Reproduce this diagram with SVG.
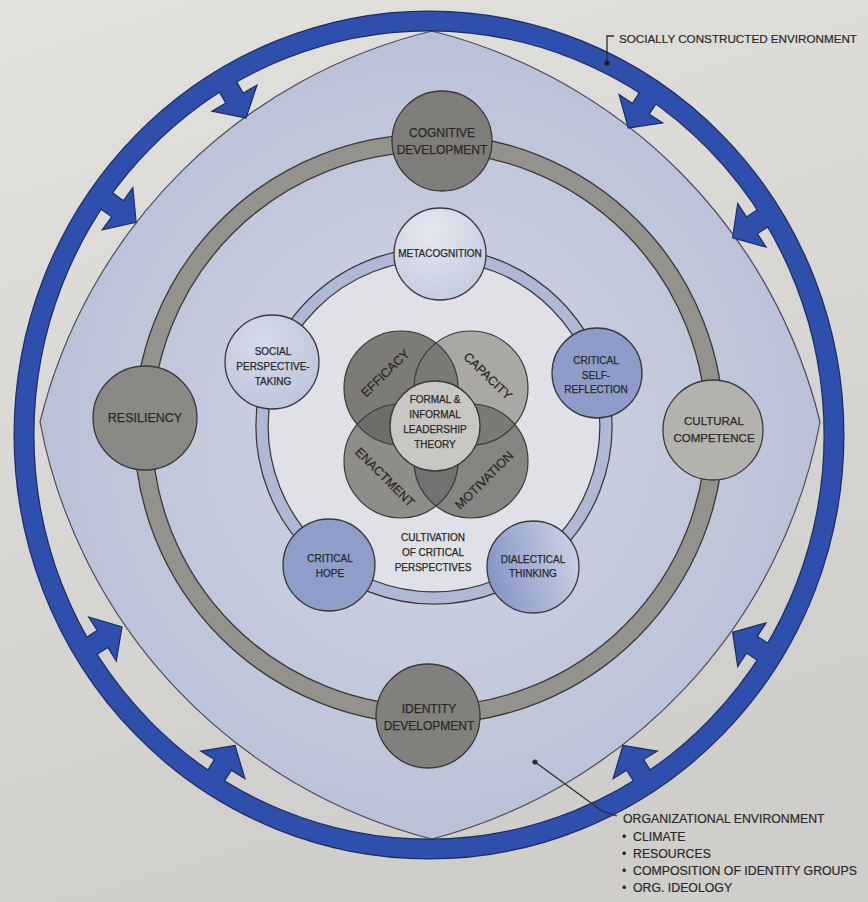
<svg xmlns="http://www.w3.org/2000/svg" width="868" height="902" viewBox="0 0 868 902">
  <defs>
    <linearGradient id="paper" x1="0" y1="0" x2="0.3" y2="1">
      <stop offset="0" stop-color="#e3e1dd"/>
      <stop offset="1" stop-color="#d0ceca"/>
    </linearGradient>
    <radialGradient id="lensFill" cx="0.5" cy="0.5" r="0.55">
      <stop offset="0" stop-color="#d3d7e4"/>
      <stop offset="1" stop-color="#b8bfd6"/>
    </radialGradient>
    <radialGradient id="metaFill" cx="0.4" cy="0.25" r="0.85">
      <stop offset="0" stop-color="#e6e8ef"/>
      <stop offset="1" stop-color="#c2c9de"/>
    </radialGradient>
    <radialGradient id="socialFill" cx="0.4" cy="0.3" r="0.85">
      <stop offset="0" stop-color="#d6dbe8"/>
      <stop offset="1" stop-color="#b9c2db"/>
    </radialGradient>
    <linearGradient id="dialFill" x1="0" y1="0.6" x2="1" y2="0.3">
      <stop offset="0" stop-color="#8594c5"/>
      <stop offset="1" stop-color="#ccd2e5"/>
    </linearGradient>
    <clipPath id="clipEff"><circle cx="401" cy="388" r="57"/></clipPath>
    <clipPath id="clipCap"><circle cx="471" cy="388" r="57"/></clipPath>
    <clipPath id="clipEna"><circle cx="401" cy="461" r="57"/></clipPath>
    <clipPath id="clipMot"><circle cx="471" cy="461" r="57"/></clipPath>
    <!-- arrow pointing along +x, tip at origin, stem running back into the ring -->
    <path id="arrowBody" d="M0,0 L-23,-26 L-23,-10 L-48,-10 L-48,10 L-23,10 L-23,26 Z"/>
    <path id="arrowEdge" d="M-36,-10 L-23,-10 L-23,-26 L0,0 L-23,26 L-23,10 L-36,10"/>
    <style>
      .lbl { font-family: "Liberation Sans", Arial, sans-serif; fill: #2a2927; stroke: #2a2927; stroke-width: 0.25; text-anchor: middle; }
      .outer { font-size: 12px; }
      .inner { font-size: 10px; }
      .venn { font-size: 12.5px; }
      .note { font-family: "Liberation Sans", Arial, sans-serif; fill: #2a2927; stroke: #2a2927; stroke-width: 0.2; font-size: 12.3px; }
      .node { stroke: #3a3938; stroke-width: 1.3; }
      .ring-edge { fill: none; stroke: #1e2c62; }
      .arrow-body { fill: #2e4fab; }
      .arrow-edge { fill: none; stroke: #1e2c62; stroke-width: 1.2; stroke-linejoin: miter; }
      .leader { fill: none; stroke: #2d2c2a; stroke-width: 1.3; }
    </style>
  </defs>

  <!-- paper -->
  <rect width="868" height="902" fill="url(#paper)"/>

  <!-- organizational environment: curved diamond -->
  <path id="org-environment" d="M40,422 A533,533 0 0 1 432,31 A533,533 0 0 1 820,422 A533,533 0 0 1 432,839 A533,533 0 0 1 40,422 Z" fill="url(#lensFill)" stroke="#4a4d58" stroke-width="1.2"/>

  <!-- socially constructed environment: blue band -->
  <g id="rings">
    <ellipse cx="429" cy="435" rx="405" ry="414" class="ring-edge" stroke-width="21"/>
    <ellipse cx="429" cy="435" rx="405" ry="414" fill="none" stroke="#2e4fab" stroke-width="18.6"/>
    <!-- development band -->
    <circle cx="429" cy="429" r="286" fill="none" stroke="#3a3938" stroke-width="19"/>
    <circle cx="429" cy="429" r="286" fill="none" stroke="#94928d" stroke-width="16.4"/>
    <!-- critical perspectives band -->
    <circle cx="434" cy="426" r="166" fill="#e0e1e6"/>
    <circle cx="434" cy="426" r="172" fill="none" stroke="#3a3938" stroke-width="13.5"/>
    <circle cx="434" cy="426" r="172" fill="none" stroke="#afb9d6" stroke-width="11"/>
  </g>

  <!-- inward arrows from the outer band -->
  <g id="connectors">
    <g transform="translate(429,435) rotate(-120) translate(366,0) rotate(180)"><use href="#arrowBody" class="arrow-body"/><use href="#arrowEdge" class="arrow-edge"/></g>
    <g transform="translate(429,435) rotate(-144) translate(362,0) rotate(180)"><use href="#arrowBody" class="arrow-body"/><use href="#arrowEdge" class="arrow-edge"/></g>
    <g transform="translate(429,435) rotate(-57) translate(366,0) rotate(180)"><use href="#arrowBody" class="arrow-body"/><use href="#arrowEdge" class="arrow-edge"/></g>
    <g transform="translate(429,435) rotate(-33) translate(362,0) rotate(180)"><use href="#arrowBody" class="arrow-body"/><use href="#arrowEdge" class="arrow-edge"/></g>
    <g transform="translate(429,435) rotate(33) translate(362,0) rotate(180)"><use href="#arrowBody" class="arrow-body"/><use href="#arrowEdge" class="arrow-edge"/></g>
    <g transform="translate(429,435) rotate(58) translate(366,0) rotate(180)"><use href="#arrowBody" class="arrow-body"/><use href="#arrowEdge" class="arrow-edge"/></g>
    <g transform="translate(429,435) rotate(122) translate(366,0) rotate(180)"><use href="#arrowBody" class="arrow-body"/><use href="#arrowEdge" class="arrow-edge"/></g>
    <g transform="translate(429,435) rotate(148) translate(362,0) rotate(180)"><use href="#arrowBody" class="arrow-body"/><use href="#arrowEdge" class="arrow-edge"/></g>
  </g>

  <!-- development nodes -->
  <g id="cognitive-development">
    <circle cx="442" cy="141" r="50" class="node" fill="#7f7d79"/>
    <text class="lbl outer" x="442" y="137">COGNITIVE</text>
    <text class="lbl outer" x="442" y="154">DEVELOPMENT</text>
  </g>
  <g id="resiliency">
    <circle cx="145" cy="418" r="52" class="node" fill="#8b8985"/>
    <text class="lbl outer" x="145" y="422" style="font-size:12.5px">RESILIENCY</text>
  </g>
  <g id="cultural-competence">
    <circle cx="713" cy="430" r="50" class="node" fill="#b4b2ad"/>
    <text class="lbl outer" x="714" y="425" style="font-size:11.5px">CULTURAL</text>
    <text class="lbl outer" x="714" y="442" style="font-size:11.5px">COMPETENCE</text>
  </g>
  <g id="identity-development">
    <circle cx="428" cy="716" r="52" class="node" fill="#82807c"/>
    <text class="lbl outer" x="429" y="713">IDENTITY</text>
    <text class="lbl outer" x="429" y="730">DEVELOPMENT</text>
  </g>

  <!-- critical perspective nodes -->
  <g id="metacognition">
    <circle cx="440" cy="254" r="46" class="node" fill="url(#metaFill)"/>
    <text class="lbl inner" x="440" y="257">METACOGNITION</text>
  </g>
  <g id="social-perspective-taking">
    <circle cx="272" cy="362" r="47" class="node" fill="url(#socialFill)"/>
    <text class="lbl inner" x="273" y="355">SOCIAL</text>
    <text class="lbl inner" x="273" y="370">PERSPECTIVE-</text>
    <text class="lbl inner" x="273" y="385">TAKING</text>
  </g>
  <g id="critical-self-reflection">
    <circle cx="597" cy="373" r="45" class="node" fill="#8e9cca"/>
    <text class="lbl inner" x="596" y="364">CRITICAL</text>
    <text class="lbl inner" x="596" y="379">SELF-</text>
    <text class="lbl inner" x="596" y="393">REFLECTION</text>
  </g>
  <g id="critical-hope">
    <circle cx="329" cy="565" r="46" class="node" fill="#8f9dc9"/>
    <text class="lbl inner" x="330" y="562">CRITICAL</text>
    <text class="lbl inner" x="330" y="577">HOPE</text>
  </g>
  <g id="dialectical-thinking">
    <circle cx="533" cy="567" r="46" class="node" fill="url(#dialFill)"/>
    <text class="lbl inner" x="533" y="563">DIALECTICAL</text>
    <text class="lbl inner" x="533" y="577">THINKING</text>
  </g>
  <g id="cultivation-label">
    <text class="lbl inner" x="433" y="541">CULTIVATION</text>
    <text class="lbl inner" x="433" y="556">OF CRITICAL</text>
    <text class="lbl inner" x="433" y="571">PERSPECTIVES</text>
  </g>

  <!-- leadership venn -->
  <g id="leadership-venn">
    <circle cx="401" cy="388" r="57" fill="#7d7b77"/>
    <circle cx="471" cy="388" r="57" fill="#aaa8a4"/>
    <circle cx="401" cy="461" r="57" fill="#8f8d89"/>
    <circle cx="471" cy="461" r="57" fill="#878581"/>
    <circle cx="471" cy="388" r="57" fill="#7b7975" clip-path="url(#clipEff)"/>
    <circle cx="401" cy="461" r="57" fill="#6f6d6a" clip-path="url(#clipEff)"/>
    <circle cx="471" cy="461" r="57" fill="#7c7a76" clip-path="url(#clipCap)"/>
    <circle cx="471" cy="461" r="57" fill="#747270" clip-path="url(#clipEna)"/>
    <g fill="none" stroke="#3a3938" stroke-width="1.2">
      <circle cx="401" cy="388" r="57"/>
      <circle cx="471" cy="388" r="57"/>
      <circle cx="401" cy="461" r="57"/>
      <circle cx="471" cy="461" r="57"/>
    </g>
    <text class="lbl venn" transform="translate(385,373) rotate(-44)" dy="4.5">EFFICACY</text>
    <text class="lbl venn" transform="translate(488,376) rotate(44)" dy="4.5">CAPACITY</text>
    <text class="lbl venn" transform="translate(385,477) rotate(45)" dy="4.5">ENACTMENT</text>
    <text class="lbl venn" transform="translate(484,480) rotate(-45)" dy="4.5">MOTIVATION</text>
  </g>
  <g id="leadership-theory">
    <circle cx="435" cy="426" r="45" class="node" fill="#c8c7c4"/>
    <text class="lbl inner" x="435" y="403">FORMAL &amp;</text>
    <text class="lbl inner" x="435" y="418">INFORMAL</text>
    <text class="lbl inner" x="435" y="433">LEADERSHIP</text>
    <text class="lbl inner" x="435" y="448">THEORY</text>
  </g>

  <!-- callouts -->
  <g id="socially-constructed-label">
    <path class="leader" d="M614,36 H607 V62"/>
    <circle cx="607" cy="63" r="2.6" fill="#1b1b1b"/>
    <text class="note" x="619" y="43" style="font-size:11.6px" textLength="238" lengthAdjust="spacingAndGlyphs">SOCIALLY CONSTRUCTED ENVIRONMENT</text>
  </g>
  <g id="organizational-label">
    <path class="leader" d="M535,762 L602,811 L617,816"/>
    <circle cx="535" cy="762" r="2.6" fill="#2d2c2a"/>
    <text class="note" x="623" y="823">ORGANIZATIONAL ENVIRONMENT</text>
    <text class="note" y="841"><tspan x="622">•</tspan><tspan x="633">CLIMATE</tspan></text>
    <text class="note" y="858"><tspan x="622">•</tspan><tspan x="633">RESOURCES</tspan></text>
    <text class="note" y="875"><tspan x="622">•</tspan><tspan x="633">COMPOSITION OF IDENTITY GROUPS</tspan></text>
    <text class="note" y="892"><tspan x="622">•</tspan><tspan x="633">ORG. IDEOLOGY</tspan></text>
  </g>
</svg>
